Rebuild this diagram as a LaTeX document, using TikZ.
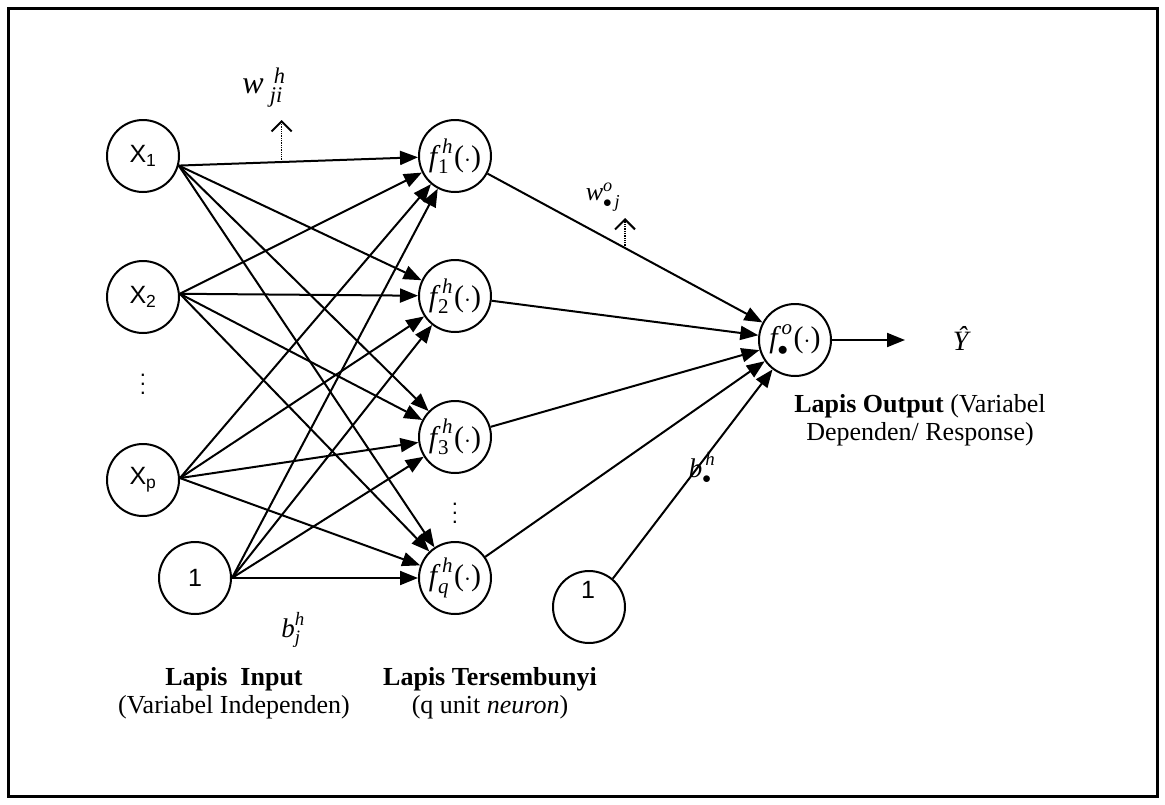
\documentclass[tikz,border=0pt]{standalone}
\usepackage{amsmath}
\usepackage{fontspec}
\setmainfont{Liberation Serif}
\newfontfamily\arialf{Liberation Sans}
\usetikzlibrary{arrows.meta}
\tikzset{
  neuron/.style={circle,draw,line width=2pt,minimum size=72pt,inner sep=0pt},
  inlbl/.style={font=\arialf\fontsize{25}{26}\selectfont},
  fnode/.style={neuron,font=\fontsize{30}{32}\selectfont},
  edgeline/.style={line width=2pt},
  arr/.style={edgeline,-{Triangle[length=18pt,width=14pt]}},
  dotarr/.style={densely dotted,line width=1.3pt,-{Straight Barb[length=10pt,width=20pt,line width=2pt]}},
  caption/.style={font=\fontsize{26}{28}\selectfont,align=center},
  vdot/.style={font=\arialf\fontsize{22}{9}\selectfont,align=center,inner sep=0pt}
}
\newcommand\fh[1]{$\textit{f}^{\hspace{5pt}\textit{h}}_{\hspace{1pt}#1}\hspace{1pt}\text{(}{\cdot}\text{)}$}
\begin{document}
\begin{tikzpicture}[x=1pt,y=-1pt]
\useasboundingbox (0,0) rectangle (1165,804);
\draw[line width=3pt] (8,8) rectangle (1157,796);

% input layer
\node[neuron,inlbl] (x1) at (143,156) {X\textsubscript{1}};
\node[neuron,inlbl] (x2) at (143,297) {X\textsubscript{2}};
\node[vdot] (xd) at (143,384) {.\\.\\.};
\node[neuron,inlbl] (xp) at (143,480) {X\textsubscript{p}};
\node[neuron,inlbl] (b1) at (195,578) {1};

% hidden layer
\node[fnode] (f1) at (455,156) {\fh{\text{1}}};
\node[fnode] (f2) at (455,296) {\fh{\text{2}}};
\node[fnode] (f3) at (455,437) {\fh{\text{3}}};
\node[vdot] (fd) at (455,513) {.\\.\\.};
\node[fnode] (fq) at (455,578) {\fh{\textit{q}}};

% output layer
\node[fnode] (fo) at (795,340) {$\textit{f}^{\hspace{4pt}\textit{o}}_{\bullet}\hspace{1pt}\text{(}{\cdot}\text{)}$};
\node[neuron] (b2) at (589,607) {};
\node[inlbl] (b2l) at (588,590) {1};
\coordinate (yend) at (905,340);
\node[font=\fontsize{28}{30}\selectfont] (yhat) at (962,338) {\textit{Ŷ}};

% input -> hidden
\foreach \s/\a in {x1/-15,x2/5,xp/3,b1/0}{
  \foreach \t in {f1,f2,f3,fq}{
    \draw[arr] (\s.\a) -- (\t);
  }
}
% hidden -> output
\foreach \t in {f1,f2,f3,fq}{
  \draw[arr] (\t) -- (fo);
}
\draw[arr] (b2.50) -- (fo);
\draw[arr] (fo) -- (yend);

% weight annotations
\path (x1.-15) -- (f1) coordinate[pos=0.43] (wbase);
\draw[dotarr] (wbase) -- ++(0,-42) coordinate (wtip);
\node[font=\fontsize{32}{34}\selectfont] (wji) at (264,88) {$\textit{w}^{\hspace{10pt}\textit{h}}_{\hspace{6pt}\textit{ji}}$};

\path (f1) -- (fo) coordinate[pos=0.5] (wobase);
\draw[dotarr] (wobase) -- ++(0,-30) coordinate (wotip);
\node[font=\fontsize{26}{28}\selectfont] (woj) at (603,197) {$\textit{w}^{\textit{o}}_{\bullet\,\textit{j}}$};

\node[font=\fontsize{27}{28}\selectfont] (bh) at (702,468) {$\textit{b}^{\hspace{3pt}\textit{h}}_{\bullet}$};
\node[font=\fontsize{27}{28}\selectfont] (bjh) at (293,630) {$\textit{b}^{\textit{h}}_{\textit{j}}$};

% captions
\node[caption] (lin) at (234,693) {\textbf{Lapis\ \ Input}\\(Variabel Independen)};
\node[caption] (lhid) at (490,693) {\textbf{Lapis Tersembunyi}\\(q unit \textit{neuron})};
\node[caption] (lout) at (920,420) {\textbf{Lapis Output} (Variabel\\Dependen/ Response)};
\end{tikzpicture}
\end{document}
